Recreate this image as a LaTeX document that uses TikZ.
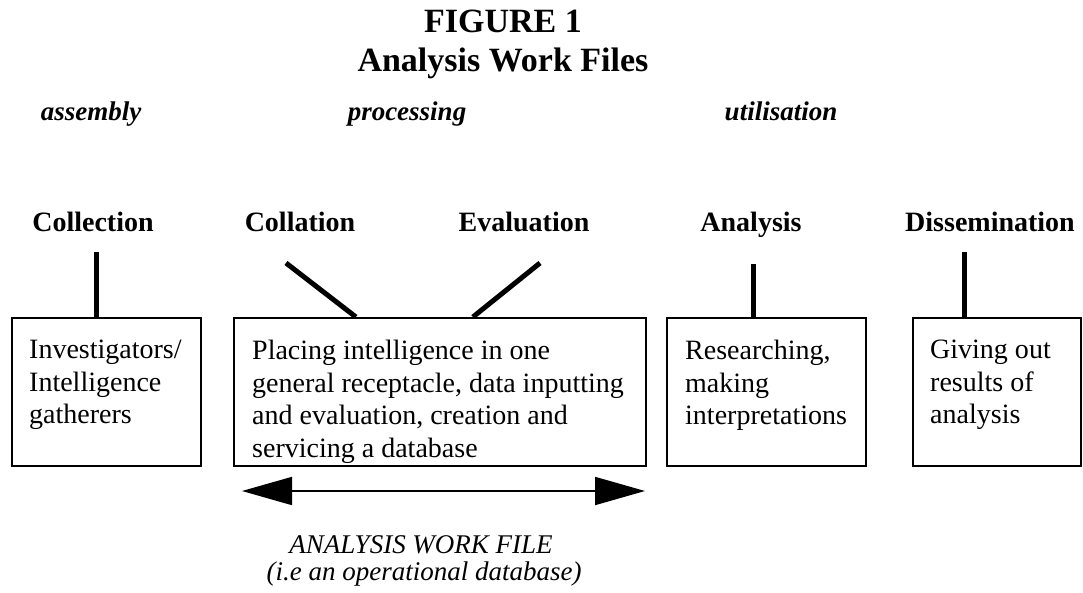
\documentclass[tikz,border=0pt]{standalone}
\usepackage{fontspec}
\setmainfont{Liberation Serif}
\usepackage{tikz}
\usetikzlibrary{arrows.meta}
\usetikzlibrary{positioning}

\begin{document}
\begin{tikzpicture}[x=1pt, y=-1pt,
        title_style/.style={inner sep=0pt, anchor=base, font=\fontsize{34}{40}\selectfont\bfseries},
        phase_style/.style={inner sep=0pt, anchor=base, font=\fontsize{27}{32}\selectfont\bfseries\itshape},
        stage_style/.style={inner sep=0pt, anchor=base, font=\fontsize{28}{32}\selectfont\bfseries},
        box_style/.style={draw=black, line width=1.8pt, anchor=north west, inner sep=0pt},
        box_text_style/.style={inner sep=0pt, anchor=north west, align=left, font=\fontsize{28}{32.5}\selectfont},
        note_style/.style={inner sep=0pt, anchor=base, font=\fontsize{27}{32}\selectfont\itshape},
        stem_style/.style={draw=black, line width=5pt},
        span_style/.style={draw=black, line width=1.8pt, {Triangle[length=50pt,width=28pt]}-{Triangle[length=50pt,width=28pt]}}]

        \useasboundingbox (0,0) rectangle (1083,593);

        \node [title_style] (fig) at (503,33) {FIGURE 1};

        \node [title_style] (awf_title) at (503,72) {Analysis Work Files};

        \node [phase_style] (assembly) at (91,121) {assembly};

        \node [phase_style] (processing) at (407,121) {processing};

        \node [phase_style] (utilisation) at (781,121) {utilisation};

        \node [stage_style] (collection) at (93,232) {Collection};

        \node [stage_style] (collation) at (300,232) {Collation};

        \node [stage_style] (evaluation) at (524,232) {Evaluation};

        \node [stage_style] (analysis) at (751,232) {Analysis};

        \node [stage_style] (dissemination) at (990,232) {Dissemination};

        \node [box_style, minimum width=189pt, minimum height=148pt] (b1) at (11,317) {};

        \node [box_style, minimum width=412pt, minimum height=148pt] (b2) at (233,317) {};

        \node [box_style, minimum width=199pt, minimum height=148pt] (b3) at (666,317) {};

        \node [box_style, minimum width=168pt, minimum height=148pt] (b4) at (912,317) {};

        \node [box_text_style] (t1) at (29,340) {Investigators/\\Intelligence\\gatherers};

        \node [box_text_style] (t2) at (252,340) {Placing intelligence in one\\general receptacle, data inputting\\and evaluation, creation and\\servicing a database};

        \node [box_text_style] (t3) at (685,340) {Researching,\\making\\interpretations};

        \node [box_text_style] (t4) at (930,340) {Giving out\\results of\\analysis};

        \coordinate (s1) at (96,252);
        \coordinate (s2) at (286,263);
        \coordinate (s3) at (540,263);
        \coordinate (s4) at (753,264);
        \coordinate (s5) at (964,252);

        \draw [stem_style] (s1) -- (s1 |- b1.north);

        \draw [stem_style] (s2) -- ([xshift=-84pt]b2.north);

        \draw [stem_style] (s3) -- ([xshift=33pt]b2.north);

        \draw [stem_style] (s4) -- (s4 |- b3.north);

        \draw [stem_style] (s5) -- (s5 |- b4.north);

        \coordinate (span_l) at (242,491);
        \coordinate (span_r) at (645,491);

        \draw [span_style] (span_l) -- (span_r);

        \node [note_style] (awf_note) at (421,553) {ANALYSIS WORK FILE};

        \node [note_style] (db_note) at (424,580) {(i.e an operational database)};

        \end{tikzpicture}
\end{document}
